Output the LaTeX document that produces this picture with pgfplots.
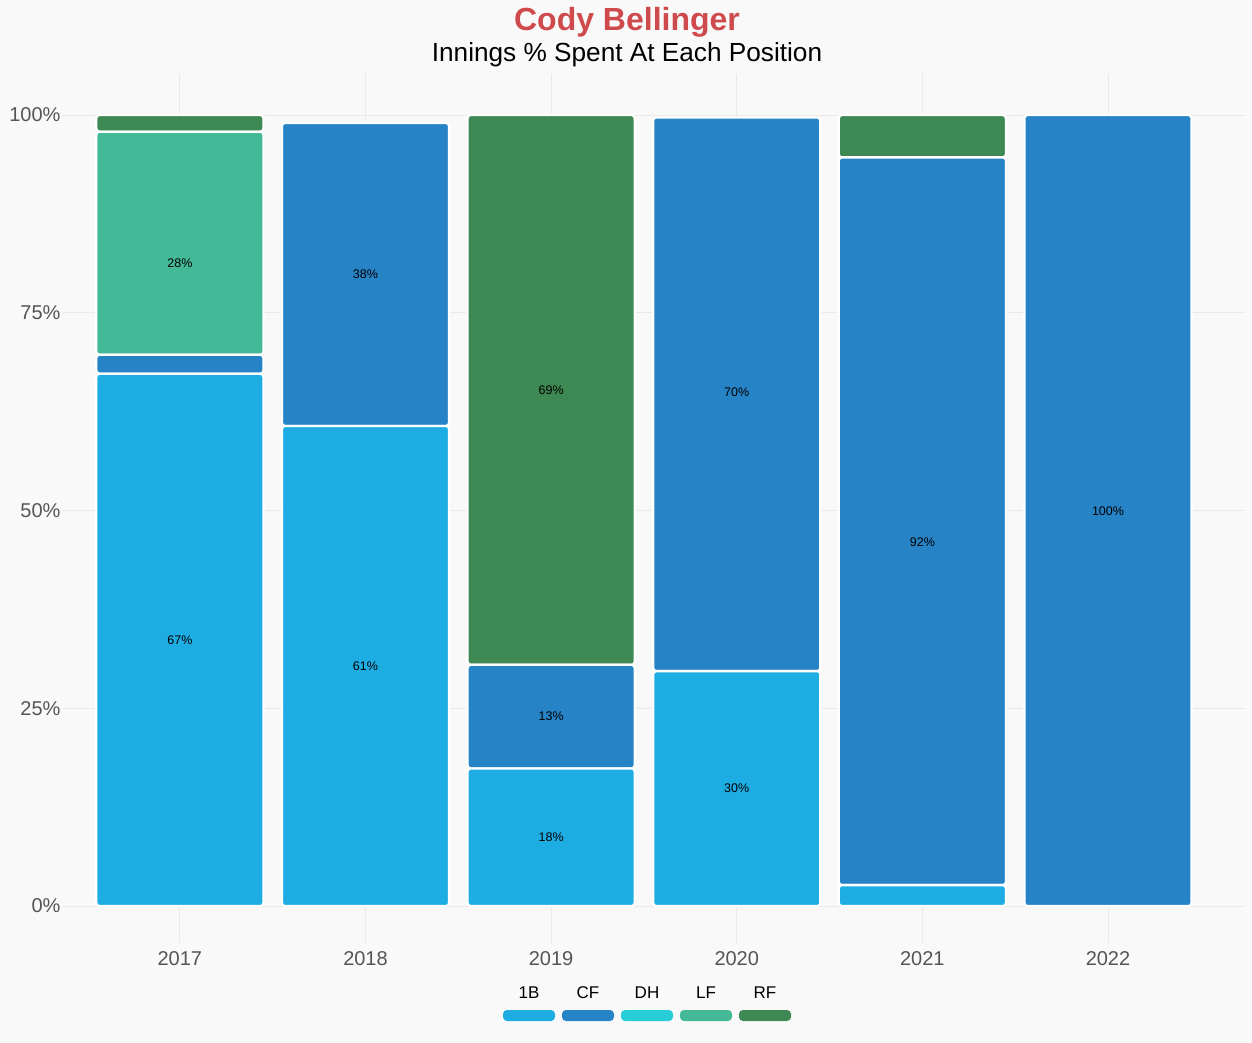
\documentclass[border=0pt]{standalone}
\usepackage{fontspec}
\setmainfont{Liberation Sans}
\usepackage{pgfplots}
\usepackage{pgfplotstable}
\pgfplotsset{compat=1.18}
\definecolor{bg}{HTML}{F9F9F9}
\definecolor{gridc}{HTML}{EAEAEA}
\definecolor{tickc}{HTML}{555555}
\definecolor{titlec}{HTML}{CF4A4D}
\definecolor{cOneB}{HTML}{1EADE3}
\definecolor{cCF}{HTML}{2683C6}
\definecolor{cDH}{HTML}{27CED7}
\definecolor{cLF}{HTML}{43B997}
\definecolor{cRF}{HTML}{3E8853}

\pgfplotstableread{
x b1 cf dh lf rf
0 67.3 2.4 0 28.2 2.1
1 60.7 38.3 0 0 0
2 17.4 13.1 0 0 69.5
3 29.7 70.0 0 0 0
4 2.65 92.0 0 0 5.35
5 0 100 0 0 0
}\data

\begin{document}
\begin{tikzpicture}[x=1pt,y=1pt]
\fill[bg] (0,0) rectangle (1252,1042);
\begin{axis}[
  at={(62pt,99pt)}, anchor=south west, scale only axis,
  width=1183pt, height=869pt,
  xmin=-0.635, xmax=5.738, ymin=-4.67, ymax=105.19,
  ybar stacked, bar width=0.9,
  axis line style={draw=none}, major tick length=0,
  xtick={0,...,5}, xticklabels={2017,2018,2019,2020,2021,2022},
  ytick={0,25,50,75,100}, yticklabels={0\%,25\%,50\%,75\%,100\%},
  grid=major, grid style={color=gridc, line width=1pt},
  tick label style={font=\fontsize{20}{24}\selectfont, text=tickc},
  yticklabel style={xshift=2pt},
  xticklabel style={yshift=-5pt},
  every axis plot/.append style={draw=white, line width=2.3pt, rounded corners=3pt},
]
\addplot[fill=cOneB] table[x=x,y=b1]{\data};
\addplot[fill=cCF] table[x=x,y=cf]{\data};
\addplot[fill=cLF] table[x=x,y=lf]{\data};
\addplot[fill=cRF] table[x=x,y=rf]{\data};
\end{axis}
\begin{axis}[
  at={(62pt,99pt)}, anchor=south west, scale only axis,
  width=1183pt, height=869pt,
  xmin=-0.635, xmax=5.738, ymin=-4.67, ymax=105.19,
  hide axis,
]
\addplot[draw=none, mark=none, nodes near coords, point meta=explicit symbolic,
  every node near coord/.append style={anchor=center, font=\fontsize{12.5}{14}\selectfont, text=black}]
coordinates {
(0,81.3) [28\%]
(0,33.6) [67\%]
(1,79.9) [38\%]
(1,30.3) [61\%]
(2,65.2) [69\%]
(2,24.0) [13\%]
(2,8.7) [18\%]
(3,64.9) [70\%]
(3,14.9) [30\%]
(4,46.0) [92\%]
(5,49.9) [100\%]
};
\end{axis}
% titles
\node[anchor=base, text=titlec, font=\fontsize{32}{38}\selectfont\bfseries] at (627,1011) {Cody Bellinger};
\node[anchor=base, text=black, font=\fontsize{26.2}{31}\selectfont] at (627,980) {Innings \% Spent At Each Position};
% legend
\foreach \c/\lab/\xx in {cOneB/1B/529, cCF/CF/588, cDH/DH/647, cLF/LF/706, cRF/RF/765}{
  \fill[\c, rounded corners=4pt] (\xx-26,21) rectangle (\xx+26,32);
  \node[anchor=center, font=\fontsize{17}{20}\selectfont] at (\xx,49) {\lab};
}
\end{tikzpicture}
\end{document}
